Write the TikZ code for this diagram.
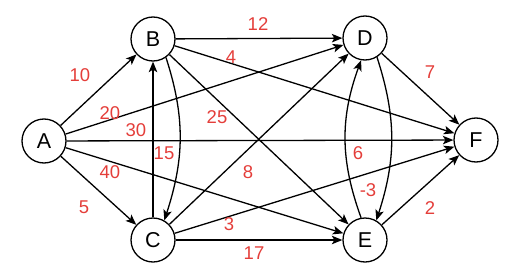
\documentclass[tikz,border=0pt]{standalone}
\usepackage{fontspec}
\setmainfont{Liberation Sans}
\usetikzlibrary{arrows.meta}
\definecolor{lab}{RGB}{228,62,58}
\begin{document}
\begin{tikzpicture}[x=1pt,y=1pt,
  vtx/.style={circle,draw,line width=1.3pt,minimum size=44pt,inner sep=0pt,font=\fontsize{21.5}{21.5}\selectfont},
  edge/.style={line width=1.3pt,-{Stealth[length=10.5pt,width=8.5pt,inset=2.5pt]}},
  wt/.style={text=lab,font=\fontsize{18.5}{18.5}\selectfont,inner sep=0pt}]
\useasboundingbox (0,0) rectangle (513,279);
\node[vtx] (A) at (44,138) {A};
\node[vtx] (B) at (153,240) {B};
\node[vtx] (D) at (365,241) {D};
\node[vtx] (F) at (476,139) {F};
\node[vtx] (C) at (153,39) {C};
\node[vtx] (E) at (365,39) {E};
\draw[edge] (A) -- (B);
\draw[edge] (A) -- (C);
\draw[edge] (A) -- (D);
\draw[edge] (A) -- (F);
\draw[edge] (A) -- (E);
\draw[edge] (B) -- (D);
\draw[edge] (B) -- (F);
\draw[edge] (B) -- (E);
\draw[edge] (C) -- (B);
\draw[edge] (B.-55) to[out=-72,in=72] (C.60);
\draw[edge] (C) -- (D);
\draw[edge] (C) -- (F);
\draw[edge] (C) -- (E);
\draw[edge] (D) -- (F);
\draw[edge] (E) -- (F);
\draw[edge] (D.-58) to[out=-72,in=72] (E.60);
\draw[edge] (E.100) to[out=110,in=-110] (D.-100);
\node[wt] (w10) at (80,204) {10};
\node[wt] (w12) at (258,255) {12};
\node[wt] (w4) at (231,222) {4};
\node[wt] (w20) at (110,166) {20};
\node[wt] (w30) at (136,149) {30};
\node[wt] (w25) at (217,162) {25};
\node[wt] (w7) at (430,207) {7};
\node[wt] (w15) at (164,126) {15};
\node[wt] (w6) at (358,126) {6};
\node[wt] (w40) at (110,107) {40};
\node[wt] (w8) at (248,107) {8};
\node[wt] (wm3) at (368,89) {-3};
\node[wt] (w5) at (84,72) {5};
\node[wt] (w3) at (229,55) {3};
\node[wt] (w2) at (430,71) {2};
\node[wt] (w17) at (254,26) {17};
\end{tikzpicture}
\end{document}
